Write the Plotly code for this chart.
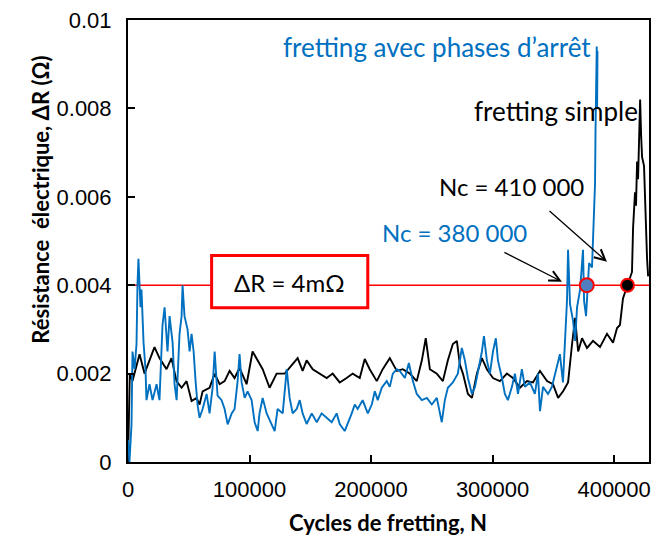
import plotly.graph_objects as go

# ---------------- data ----------------
simple_N = [0, 800, 1500, 3700, 9500, 13600, 17700, 21800, 25900, 31700, 35800, 39900, 44100, 48200,
            52300, 56400, 58900, 61400, 67100, 71300, 75400, 79500, 83600, 87700, 91800, 97600,
            102500, 106700, 110800, 116500, 122300, 128900, 134700, 139600, 143700, 147000, 152000,
            157700, 163500, 168400, 174200, 179900, 184900, 190700, 194800, 198900, 204700, 209600,
            215400, 221200, 226100, 231900, 237600, 241800, 245000, 248400, 254100, 259100, 263200,
            267300, 270600, 273100, 275600, 279700, 283000, 287100, 291200, 295300, 300300, 306000,
            311800, 316700, 322500, 328300, 333200, 339000, 344800, 349700, 353900, 358000, 362100,
            365400, 367900, 370400, 373600, 377700, 382600, 388400, 394100, 399100, 402400, 404800,
            407300, 411000, 414700, 415600, 417200, 418000, 418900, 419700, 420500, 421400, 422200,
            423000, 424600, 425500, 426300, 427100, 428000]
simple_R = [0.0, 0.0008, 0.0020, 0.00183, 0.00244, 0.0020, 0.0023, 0.0026, 0.00235, 0.0021, 0.00235,
            0.00183, 0.00168, 0.00183, 0.00138, 0.00145, 0.0013, 0.0016, 0.00168, 0.0020, 0.00176,
            0.00183, 0.00206, 0.0019, 0.00213, 0.00176, 0.0025, 0.0023, 0.0021, 0.00168, 0.0020,
            0.0020, 0.0022, 0.00235, 0.00206, 0.0023, 0.0021, 0.0020, 0.0019, 0.0020, 0.0018, 0.0019,
            0.0020, 0.0019, 0.00233, 0.0021, 0.00183, 0.0021, 0.00235, 0.00206, 0.0021, 0.0020,
            0.00183, 0.0023, 0.0028, 0.0021, 0.0020, 0.00183, 0.0023, 0.00267, 0.00274, 0.0022,
            0.0020, 0.00154, 0.00145, 0.0020, 0.00235, 0.0021, 0.0019, 0.00183, 0.0020, 0.0019,
            0.00168, 0.00183, 0.0018, 0.00206, 0.00183, 0.00176, 0.00145, 0.0016, 0.0018, 0.00267,
            0.00326, 0.0025, 0.0028, 0.00258, 0.00274, 0.0026, 0.0029, 0.0027, 0.00303, 0.0031,
            0.0037, 0.0040, 0.0043, 0.0053, 0.0061, 0.0058, 0.0068, 0.0064, 0.0072, 0.0082, 0.0074,
            0.0069, 0.0067, 0.0058, 0.0050, 0.0046, 0.0042]

arret_N = [0, 1200, 2900, 3700, 5400, 7000, 7800, 8600, 10300, 11100, 12800, 14400, 15200, 17700,
           20200, 23500, 25900, 27600, 28400, 30100, 31700, 32500, 34200, 36700, 38300, 40000,
           42400, 44100, 44900, 46500, 49000, 50700, 52300, 54000, 55600, 57200, 58900, 61400,
           64700, 67100, 69600, 71300, 73700, 77000, 79500, 82000, 85300, 87700, 90200, 91800,
           93500, 96000, 98400, 101700, 104200, 106700, 108200, 110800, 114100, 118200, 120700,
           123100, 127300, 130600, 133000, 135500, 138800, 141300, 143700, 147000, 151200, 155300,
           159300, 163500, 167600, 171700, 174200, 178300, 180800, 184100, 186600, 189000, 193100,
           197300, 200600, 203100, 205500, 208800, 212900, 215400, 217900, 221200, 223600, 227800,
           231100, 234400, 237600, 241800, 245900, 250000, 254100, 258200, 260700, 263200, 267300,
           271400, 274700, 277200, 279700, 283000, 285500, 287900, 291200, 292900, 295300, 297800,
           300300, 302700, 304400, 307700, 310100, 312600, 315900, 318400, 320900, 324100, 326600,
           330700, 334800, 337300, 339000, 341500, 345600, 348800, 351300, 353800, 355400, 357900,
           359600, 361200, 362100, 363700, 366200, 367900, 369500, 372000, 374400, 375300, 376900,
           377700, 379400, 381800, 382600, 383500, 384300, 384700, 385100, 385400, 385700, 386000,
           386300]
arret_R = [0.0005, 0.0, 0.00086, 0.0025, 0.0021, 0.00267, 0.0040, 0.0046, 0.0035, 0.0039, 0.0027,
           0.0021, 0.0014, 0.00176, 0.0014, 0.00176, 0.0014, 0.0027, 0.0031, 0.0035, 0.0029, 0.0025,
           0.0033, 0.0027, 0.00176, 0.0014, 0.0029, 0.0033, 0.0040, 0.0033, 0.0030, 0.0025, 0.0029,
           0.0025, 0.00183, 0.0013, 0.0010, 0.0012, 0.00154, 0.0011, 0.00168, 0.0025, 0.0015,
           0.0014, 0.0012, 0.00085, 0.0011, 0.0012, 0.00183, 0.00244, 0.0018, 0.00145, 0.0016,
           0.0014, 0.0009, 0.0007, 0.0011, 0.00145, 0.0011, 0.00086, 0.0007, 0.0012, 0.0011, 0.0021,
           0.00145, 0.0011, 0.0012, 0.0014, 0.0011, 0.00086, 0.0011, 0.0009, 0.0011, 0.0010, 0.0009,
           0.0011, 0.00086, 0.0007, 0.00086, 0.0011, 0.0013, 0.0012, 0.0014, 0.0011, 0.0013, 0.0016,
           0.0014, 0.00168, 0.00183, 0.0017, 0.0020, 0.0021, 0.00206, 0.0019, 0.00224, 0.00183,
           0.00154, 0.0014, 0.00145, 0.0013, 0.00145, 0.0009, 0.0014, 0.00168, 0.0018, 0.0020,
           0.00258, 0.0023, 0.0019, 0.00154, 0.0017, 0.00206, 0.0025, 0.00285, 0.0023, 0.0020,
           0.0025, 0.0028, 0.0023, 0.0019, 0.00154, 0.0014, 0.0017, 0.0020, 0.00154, 0.0021, 0.0017,
           0.0018, 0.00154, 0.0020, 0.00115, 0.0017, 0.00154, 0.0017, 0.0020, 0.0023, 0.00244,
           0.0018, 0.0029, 0.00364, 0.0048, 0.00357, 0.0032, 0.00274, 0.0035, 0.0039, 0.0048,
           0.00364, 0.0033, 0.0038, 0.0045, 0.0044, 0.0050, 0.0053, 0.0063, 0.0075, 0.0088, 0.0078,
           0.0094, 0.0080, 0.0093]

threshold = 0.004
nc_arret = 377500
nc_simple = 411000

x_ticks = [0, 100000, 200000, 300000, 400000]
x_ticktext = ["0", "100000", "200000", "300000", "400000"]
y_ticks = [0, 0.002, 0.004, 0.006, 0.008, 0.01]
y_ticktext = ["0", "0.002", "0.004", "0.006", "0.008", "0.01"]

X_MAX = 428700
BLUE = "#0070C0"
LATO = "Lato, Carlito, 'Open Sans', sans-serif"
ARIAL = "Arial, 'Liberation Sans', sans-serif"

fig = go.Figure()

# threshold line
fig.add_trace(go.Scatter(x=[0, X_MAX], y=[threshold, threshold], mode="lines",
                         line=dict(color="#FF0000", width=1.5), hoverinfo="skip"))

fig.add_trace(go.Scatter(x=simple_N, y=simple_R, mode="lines",
                         line=dict(color="#000000", width=1.9), name="fretting simple"))
fig.add_trace(go.Scatter(x=arret_N, y=arret_R, mode="lines",
                         line=dict(color=BLUE, width=1.9), name="fretting avec phases d'arrêt"))

# critical points
fig.add_trace(go.Scatter(x=[nc_arret], y=[threshold], mode="markers",
                         marker=dict(size=14, color="#4F7FBF", line=dict(color="#FF0000", width=2))))
fig.add_trace(go.Scatter(x=[nc_simple], y=[threshold], mode="markers",
                         marker=dict(size=13, color="#000000", line=dict(color="#FF0000", width=2))))

# box around ΔR = 4mΩ
fig.add_shape(type="rect", xref="x", yref="y", x0=68800, x1=197300, y0=0.00349, y1=0.00467,
              fillcolor="white", line=dict(color="#FF0000", width=3), layer="above")

annotations = [
    dict(x=133000, y=0.00405, text="ΔR = 4mΩ", showarrow=False,
         font=dict(family=LATO, size=24, color="black")),
    dict(x=382600, y=0.0094, text="fretting avec phases d’arrêt", showarrow=False,
         xanchor="right", font=dict(family=LATO, size=26, color=BLUE)),
    dict(x=421300, y=0.00795, text="fretting simple", showarrow=False,
         xanchor="right", font=dict(family=LATO, size=26, color="black")),
    dict(x=315900, y=0.00623, text="Nc = 410 000", showarrow=False,
         font=dict(family=LATO, size=24, color="black")),
    dict(x=268900, y=0.00519, text="Nc = 380 000", showarrow=False,
         font=dict(family=LATO, size=24, color=BLUE)),
    # arrows
    dict(x=357100, y=0.00408, ax=308500, ay=0.00476, xref="x", yref="y", axref="x", ayref="y",
         text="", showarrow=True, arrowhead=5, arrowsize=1.6, arrowwidth=1.3, arrowcolor="black"),
    dict(x=394100, y=0.00453, ax=345600, ay=0.00571, xref="x", yref="y", axref="x", ayref="y",
         text="", showarrow=True, arrowhead=5, arrowsize=1.6, arrowwidth=1.3, arrowcolor="black"),
    # axis titles
    dict(xref="paper", yref="paper", x=-0.197, y=0.593,
         text="<b>Résistance\u00a0 électrique, ΔR (Ω)</b>",
         textangle=-90, showarrow=False, font=dict(family=LATO, size=22, color="black")),
    dict(xref="paper", yref="paper", x=0.4986, y=-0.138, text="<b>Cycles de fretting, N</b>",
         yanchor="middle", showarrow=False, font=dict(family=LATO, size=22, color="black")),
]
for a in annotations:
    a.setdefault("xref", "x")
    a.setdefault("yref", "y")
    fig.add_annotation(**a)

axis_common = dict(showline=True, linecolor="black", linewidth=2, mirror=True,
                   ticks="inside", ticklen=7, tickwidth=1.5, tickcolor="black",
                   showgrid=False, zeroline=False, automargin=False,
                   tickfont=dict(family=ARIAL, size=22, color="black"))

fig.update_xaxes(range=[0, X_MAX], tickvals=x_ticks, ticktext=x_ticktext,
                 ticklabelstandoff=7, **axis_common)
fig.update_yaxes(range=[0, 0.01], tickvals=y_ticks, ticktext=y_ticktext,
                 ticklabelstandoff=10, **axis_common)

fig.update_layout(width=651, height=545, margin=dict(l=128, r=2, t=20, b=83),
                  plot_bgcolor="white", paper_bgcolor="white", showlegend=False)

fig.write_html("out.html", config={"displayModeBar": False},
               post_script="document.body.style.margin='0';document.body.style.overflow='hidden';")
